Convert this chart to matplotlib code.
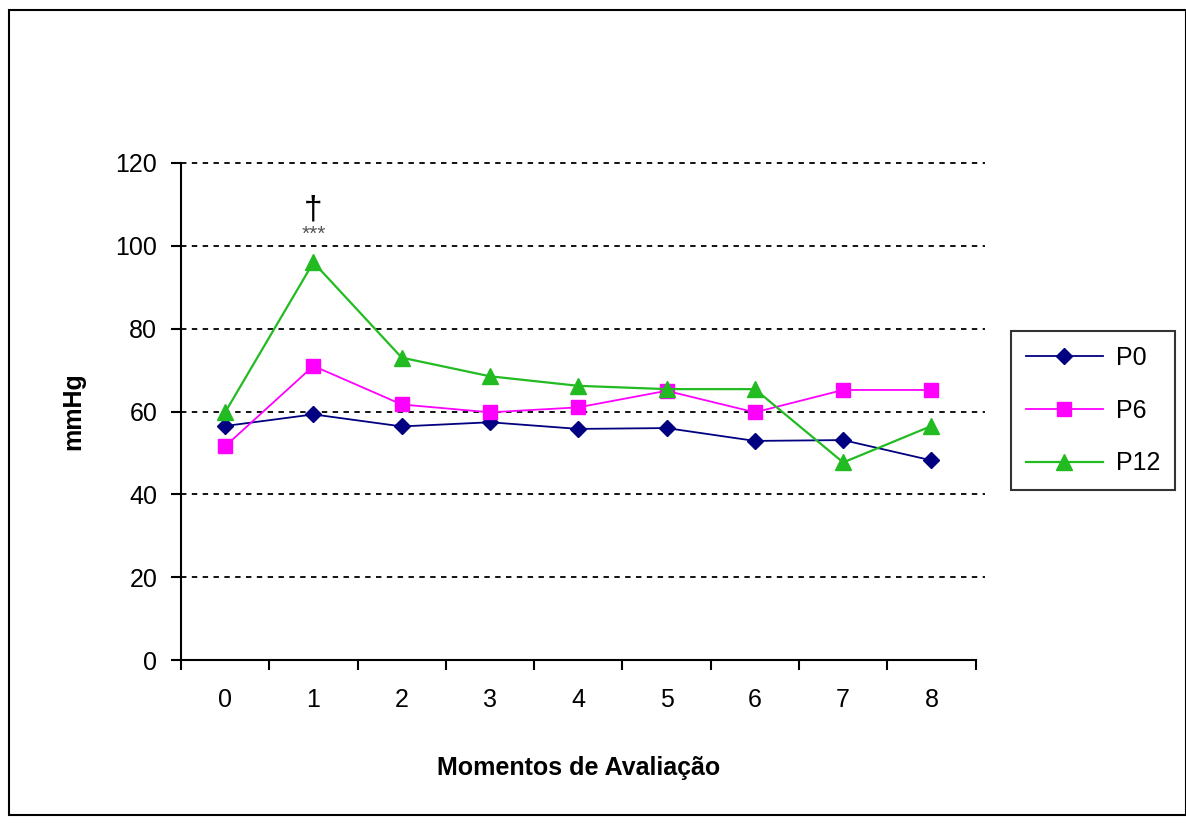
import matplotlib
matplotlib.use("Agg")
import matplotlib.pyplot as plt
from matplotlib.patches import Rectangle

plt.rcParams['font.family'] = ['Liberation Sans', 'DejaVu Sans']

categories = ['0', '1', '2', '3', '4', '5', '6', '7', '8']
p0 = [56.5, 59.3, 56.4, 57.4, 55.8, 56.0, 52.9, 53.1, 48.2]
p6 = [51.6, 71.0, 61.7, 59.8, 61.0, 65.0, 59.8, 65.2, 65.2]
p12 = [59.8, 96.0, 73.0, 68.5, 66.2, 65.4, 65.4, 47.7, 56.5]
y_ticks = [0, 20, 40, 60, 80, 100, 120]

fig = plt.figure(figsize=(11.86, 8.23), dpi=100)
fig.patches.append(Rectangle((0.008, 0.01), 0.992, 0.978, transform=fig.transFigure,
                             fill=False, edgecolor='black', linewidth=1.5))
ax = fig.add_axes([0.1526, 0.198, 0.67, 0.604])

x = list(range(len(categories)))
ax.plot(x, p0, color='#000080', marker='D', markersize=8, linewidth=1.3, label='P0')
ax.plot(x, p6, color='#FF00FF', marker='s', markersize=10, linewidth=1.3, label='P6')
ax.plot(x, p12, color='#22BB22', marker='^', markersize=11, linewidth=1.6, label='P12')

ax.set_xlim(-0.5, 8.5)
ax.set_ylim(0, 120)
ax.set_yticks(y_ticks)
ax.set_yticklabels([str(v) for v in y_ticks], fontsize=18)
ax.set_xticks(x)
ax.set_xticklabels(categories, fontsize=18)
ax.tick_params(axis='x', length=0, pad=20)
ax.set_xticks([i - 0.5 for i in range(len(categories) + 1)], minor=True)
ax.tick_params(axis='x', which='minor', length=7, width=1.5, direction='out')
ax.tick_params(axis='y', length=7, width=1.5, direction='out', pad=10)
for v in y_ticks[1:]:
    ax.axhline(v, color='black', linestyle=(0, (3, 3)), linewidth=1.3, zorder=0, clip_on=False,
               xmax=1.012)
for s in ['top', 'right']:
    ax.spines[s].set_visible(False)
for s in ['left', 'bottom']:
    ax.spines[s].set_linewidth(1.5)

ax.set_xlabel('Momentos de Avaliação', fontsize=18, fontweight='bold', labelpad=32)
ax.set_ylabel('mmHg', fontsize=18, fontweight='bold', labelpad=22)

ax.text(1, 105, '†', ha='center', va='bottom', fontsize=24, color='black')
ax.text(1, 100.5, '***', ha='center', va='bottom', fontsize=15, color='#555555')

leg = ax.legend(loc='center left', bbox_to_anchor=(1.044, 0.502), fontsize=18, frameon=True,
                fancybox=False, edgecolor='black', handlelength=3.1, labelspacing=1.15,
                borderpad=0.6, handletextpad=0.5, borderaxespad=0)
leg.get_frame().set_linewidth(1.5)

fig.savefig('out.png', dpi=100)
